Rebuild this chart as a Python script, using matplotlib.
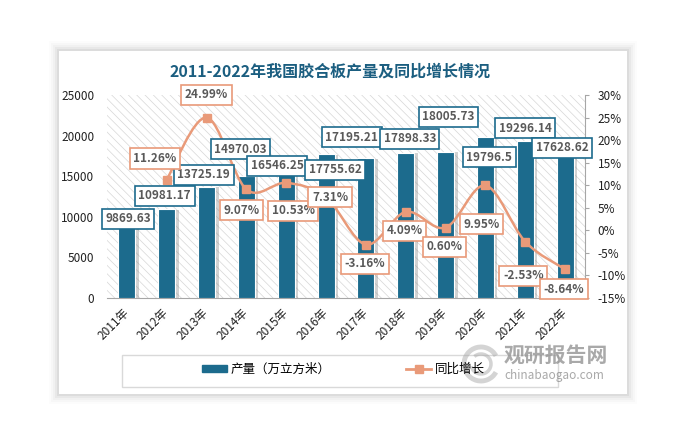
import numpy as np
import matplotlib
matplotlib.use('Agg')
import matplotlib.pyplot as plt
import matplotlib.patheffects as pe
from matplotlib.patches import Rectangle, PathPatch, Arc
from matplotlib.path import Path
from matplotlib.lines import Line2D

plt.rcParams['font.family'] = ['Noto Sans CJK SC', 'DejaVu Sans']
plt.rcParams['axes.unicode_minus'] = False
plt.rcParams['hatch.linewidth'] = 0.5

# 数据
years = ['2011年', '2012年', '2013年', '2014年', '2015年', '2016年',
         '2017年', '2018年', '2019年', '2020年', '2021年', '2022年']
output = [9869.63, 10981.17, 13725.19, 14970.03, 16546.25, 17755.62,
          17195.21, 17898.33, 18005.73, 19796.5, 19296.14, 17628.62]
growth = [11.26, 24.99, 9.07, 10.53, 7.31, -3.16, 4.09, 0.60, 9.95, -2.53, -8.64]

# 标签偏移 (像素)
bar_offsets = [(1, -1), (-2, 13), (-3, 12), (-6, 27), (-9, -2), (9, -16),
               (-14, 21), (4, 14), (3, 35), (4, -20), (0, 13), (-3, 7)]
growth_offsets = [(-12, 21), (0, 23), (-5, -21), (7, -28), (4, 0), (-1, -19),
                  (-1, -19), (-1, -19), (-4, -39), (-2, -34), (-1, -20)]

bar_color = '#1c6b8d'
line_color = '#e99a79'
W, H = 683, 447


def fx(px):
    return px / W


def fy(py):
    return 1 - py / H


fig = plt.figure(figsize=(6.83, 4.47), dpi=100)

# 卡片阴影 + 卡片
cx0, cy0, cx1, cy1 = 59, 51, 627, 394
for pad, a in [(10, 0.012), (8, 0.018), (6, 0.025), (4, 0.035), (2, 0.05)]:
    fig.patches.append(Rectangle((fx(cx0 - pad), fy(cy1 + pad)),
                                 fx(cx1 - cx0 + 2 * pad), (cy1 - cy0 + 2 * pad) / H,
                                 transform=fig.transFigure, facecolor='black',
                                 alpha=a, lw=0, zorder=0))
fig.patches.append(Rectangle((fx(cx0), fy(cy1)), fx(cx1 - cx0), (cy1 - cy0) / H,
                             transform=fig.transFigure, facecolor='white',
                             lw=0, zorder=1))

ax = fig.add_axes([fx(107), fy(298), fx(478), 203 / H])
ax.set_zorder(2)
ax.patch.set_visible(False)
x = np.arange(len(years))

ax.add_patch(Rectangle((0, 0), 1, 1, transform=ax.transAxes, facecolor='white',
                       edgecolor='#d6d6d6', hatch='\\\\\\\\', lw=0, zorder=0))
bars = ax.bar(x, output, width=0.43, color=bar_color, edgecolor='white', linewidth=0.8, zorder=3)
for b in bars:
    b.set_path_effects([pe.SimplePatchShadow(offset=(2.5, -0.5), shadow_rgbFace='#7f7f7f', alpha=0.35),
                        pe.Normal()])
ax.set_xlim(-0.5, len(years) - 0.5)
ax.set_ylim(0, 25000)
ax.set_yticks(range(0, 25001, 5000))
ax.tick_params(axis='y', length=0, labelsize=8.5, pad=9, labelcolor='#222222')
ax.set_xticks(x)
ax.set_xticklabels(years, rotation=45, ha='right', va='center', rotation_mode='anchor')
ax.tick_params(axis='x', length=0, labelsize=8.5, pad=9, labelcolor='#222222')
for s in ['left', 'top', 'right']:
    ax.spines[s].set_visible(False)
ax.spines['bottom'].set_color('#a6a6a6')

ax2 = ax.twinx()
ax2.set_ylim(-15, 30)
ax2.set_yticks(range(-15, 31, 5))
ax2.set_yticklabels([f'{v}%' for v in range(-15, 31, 5)])
ax2.tick_params(axis='y', length=3, color='#a6a6a6', labelsize=8.5, pad=6, labelcolor='#222222')
for s in ['left', 'top', 'bottom']:
    ax2.spines[s].set_visible(False)
ax2.spines['right'].set_color('#a6a6a6')

# 平滑曲线 (Catmull-Rom -> Bezier)
xg = x[1:].astype(float)
gy = np.array(growth)
P = np.column_stack([xg, gy])
Pe = np.vstack([P[0], P, P[-1]])
verts = [tuple(P[0])]
codes = [Path.MOVETO]
for i in range(len(P) - 1):
    p0, p1, p2, p3 = Pe[i], Pe[i + 1], Pe[i + 2], Pe[i + 3]
    c1 = p1 + (p2 - p0) / 6
    c2 = p2 - (p3 - p1) / 6
    verts += [tuple(c1), tuple(c2), tuple(p2)]
    codes += [Path.CURVE4] * 3
ax2.add_patch(PathPatch(Path(verts, codes), facecolor='none', edgecolor=line_color,
                        lw=1.8, zorder=4))
ax2.plot(xg, growth, ls='none', marker='s', ms=5.5, color=line_color, zorder=5)

# 数据标签
for i, v in enumerate(output):
    ax2.annotate(f'{v}', xy=(x[i], v), xycoords=ax.transData,
                 xytext=bar_offsets[i], textcoords='offset pixels',
                 ha='center', va='center', fontsize=8.5, fontweight='bold',
                 color='#595959', zorder=6,
                 bbox=dict(boxstyle='square,pad=0.3', fc='white', ec=bar_color, lw=1.2))
for i, v in enumerate(growth):
    ax2.annotate(f'{v:.2f}%', xy=(xg[i], v), xytext=growth_offsets[i],
                 textcoords='offset pixels', ha='center', va='center', fontsize=8.5,
                 fontweight='bold', color='#595959', zorder=6,
                 bbox=dict(boxstyle='square,pad=0.3', fc='white', ec=line_color, lw=1.2))

# 标题
fig.text(fx(330), fy(72), '2011-2022年我国胶合板产量及同比增长情况', ha='center',
         va='center', fontsize=11.5, fontweight='bold', color='#1b5e80', zorder=3)

# 图例
fig.patches.append(Rectangle((fx(122), fy(387)), fx(436), 32 / H, transform=fig.transFigure,
                             facecolor='none', edgecolor='#d9d9d9', lw=1, zorder=2))
handles = [Rectangle((0, 0), 1, 1, color=bar_color),
           Line2D([], [], color=line_color, lw=2, marker='s', ms=6)]
fig.legend(handles, ['产量（万立方米）', '同比增长'], loc='center left',
           bbox_to_anchor=(fx(196), fy(369)), ncol=2, frameon=False, fontsize=9,
           borderpad=0, handlelength=2, handletextpad=0.3, columnspacing=6.0,
           handleheight=0.5)

# 水印
for r, t1, t2, lw in [(17, 40, 320, 3.5), (10, 200, 480, 2.5)]:
    fig.add_artist(Arc((fx(481), fy(364)), 2 * r / W, 2 * r / H, theta1=t1, theta2=t2,
                       transform=fig.transFigure, color='#a0a0a0', lw=lw, alpha=0.45,
                       zorder=5))
fig.text(fx(556), fy(355), '观研报告网', ha='center', va='center', fontsize=15,
         fontweight='bold', color='#8c8c8c', alpha=0.75, zorder=5)
fig.text(fx(554), fy(376), 'chinabaogao.com', ha='center', va='center', fontsize=8.5,
         color='#8c8c8c', alpha=0.75, zorder=5)

fig.savefig('out.png', dpi=100, facecolor='white')
